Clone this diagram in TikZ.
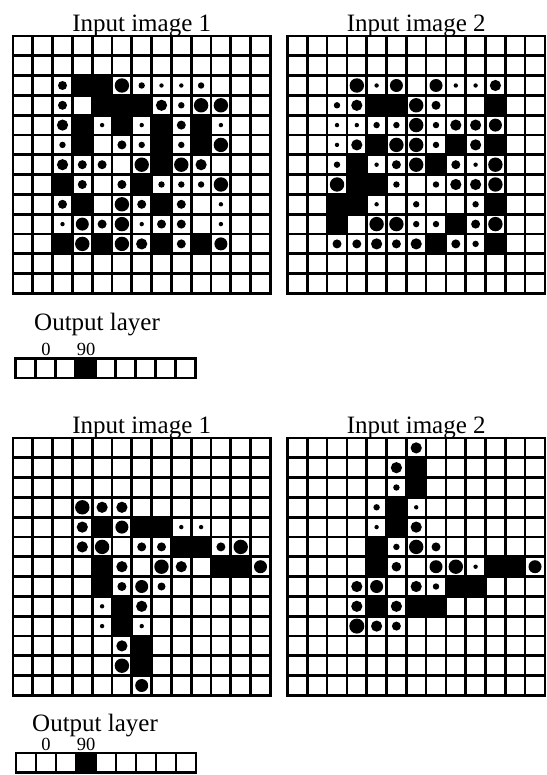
\documentclass[tikz,border=0pt]{standalone}
\usepackage{fontspec}
\setmainfont{Liberation Serif}
\def\cs{19.8}
\tikzset{
  gridline/.style={line width=2.7pt, line cap=rect, draw=black},
  title/.style={anchor=base, font=\fontsize{25}{28}\selectfont, inner sep=0pt},
  lbl/.style={anchor=base, font=\fontsize{18.5}{20}\selectfont, inner sep=0pt},
  outcell/.style={line width=2.5pt, draw=black},
}
% #1,#2 origin; #3 black cells r/c; #4 dots r/c/radius
\newcommand{\drawgrid}[4]{%
  \foreach \rr/\cc in {#3} {\fill[black] ({#1+(\cc-1)*\cs},{#2+(\rr-1)*\cs}) rectangle ++(\cs,\cs);}
  \foreach \ii in {0,...,13} {%
    \draw[gridline] ({#1+\ii*\cs},{#2}) -- ({#1+\ii*\cs},{#2+13*\cs});
    \draw[gridline] ({#1},{#2+\ii*\cs}) -- ({#1+13*\cs},{#2+\ii*\cs});
  }
  \foreach \rr/\cc/\dd in {#4} {\fill[black] ({#1+(\cc-0.5)*\cs},{#2+(\rr-0.5)*\cs}) circle[radius=\dd];}
}
\newcommand{\drawoutput}[2]{%
  \fill[black] ({#1+3*20},{#2}) rectangle ++(20,19.5);
  \foreach \ii in {0,...,8} {\draw[outcell] ({#1+\ii*20},{#2}) rectangle ++(20,19.5);}
}
\begin{document}
\begin{tikzpicture}[x=1pt,y=-1pt]
\useasboundingbox[fill=white] (0,0) rectangle (546,775);

% ---------- top ----------
\node[title] (t1) at (141.7,32) {Input image 1};
\node[title] (t2) at (416.2,32) {Input image 2};

\drawgrid{13}{36}{3/4,3/5,4/5,4/6,4/7,5/4,5/6,5/8,5/10,6/4,6/8,6/10,7/8,8/3,8/7,9/4,9/8,11/3,11/5,11/8,11/10}
{3/3/4.5,3/6/7.2,3/7/3.2,3/8/2.2,3/9/2.2,3/10/3.2,
4/3/4.5,4/8/5.6,4/9/3.2,4/10/7.2,4/11/7.2,
5/3/5.6,5/5/2.2,5/7/2.2,5/9/4.5,5/11/2.2,
6/3/3.2,6/6/4.5,6/7/3.2,6/9/3.2,6/11/7.2,
7/3/5.6,7/4/4.5,7/5/4.5,7/7/7.2,7/9/7.2,7/10/5.6,
8/4/4.5,8/6/4.5,8/8/3.2,8/9/3.2,8/10/3.2,8/11/7.2,
9/3/4.5,9/6/7.2,9/7/4.5,9/9/4.5,9/11/2.2,
10/3/2.2,10/4/6.5,10/5/4.5,10/6/7.2,10/7/2.2,10/8/4.5,10/9/4.5,10/11/2.2,
11/4/7.2,11/6/7.2,11/7/5.6,11/9/4.5,11/11/6.5}

\drawgrid{287.5}{36}{4/5,4/6,4/11,6/5,6/9,6/11,7/4,7/8,8/4,8/5,9/3,9/4,9/11,10/3,10/9,11/8,11/11}
{3/4/7.2,3/5/2.2,3/6/6.5,3/8/6.5,3/9/2.2,3/10/2.2,3/11/5.6,
4/3/3.2,4/4/5.6,4/7/7.2,4/8/4.5,
5/3/2.2,5/4/2.2,5/5/3.2,5/6/3.2,5/7/7.2,5/8/3.2,5/9/5.6,5/10/5.6,5/11/6.5,
6/3/2.2,6/4/5.6,6/6/7.2,6/7/7.2,6/8/3.2,6/10/5.6,
7/3/3.2,7/5/2.2,7/6/4.5,7/7/7.2,7/9/4.5,7/10/2.2,7/11/7.2,
8/3/7.2,8/6/3.2,8/8/3.2,8/9/5.6,8/10/5.6,8/11/7.2,
9/5/2.2,9/7/3.2,9/10/3.2,
10/5/7.2,10/6/7.2,10/7/3.2,10/8/3.2,10/10/4.5,10/11/7.2,
11/3/4.5,11/4/4.5,11/5/5.6,11/6/4.5,11/7/5.6,11/9/4.5,11/10/3.2}

\node[title, anchor=base west] (o1) at (34,330) {Output layer};
\node[lbl] (z1) at (46,355) {0};
\node[lbl] (n1) at (86,355) {90};
\drawoutput{15.5}{358.5}

% ---------- bottom ----------
\node[title] (t3) at (141.7,433.5) {Input image 1};
\node[title] (t4) at (416.2,433.5) {Input image 2};

\drawgrid{13}{438}{5/5,5/7,5/8,6/9,6/10,7/5,7/11,7/12,8/5,9/6,10/6,11/7,12/7}
{4/4/7.2,4/5/5.6,4/6/5.6,
5/4/5.6,5/6/6.5,5/9/2.2,5/10/2.2,
6/4/5.6,6/5/7.2,6/7/4.5,6/8/4.5,6/11/4.5,6/12/7.2,
7/6/5.6,7/8/7.2,7/9/5.6,7/13/6.5,
8/6/4.5,8/7/6.5,8/8/4.0,
9/5/2.2,9/7/5.6,
10/5/2.2,10/7/2.2,
11/6/5.6,12/6/7.2,13/7/6.5}

\drawgrid{287.5}{438}{2/7,3/7,4/6,5/6,6/5,7/5,7/11,7/12,8/9,8/10,9/5,9/7,9/8}
{1/7/5.6,2/6/5.6,3/6/3.2,4/5/3.2,4/7/2.2,5/5/2.2,5/7/5.6,
6/6/3.2,6/7/7.2,6/8/4.5,
7/6/4.8,7/8/6.5,7/9/7.2,7/10/2.2,7/13/6.5,
8/4/5.6,8/5/6.5,8/7/5.6,8/8/3.2,
9/4/5.6,9/6/5.6,
10/4/7.5,10/5/5.6,10/6/4.5}

\node[title, anchor=base west] (o2) at (32,731) {Output layer};
\node[lbl] (z2) at (46,750) {0};
\node[lbl] (n2) at (86,750) {90};
\drawoutput{16}{753}
\end{tikzpicture}
\end{document}
